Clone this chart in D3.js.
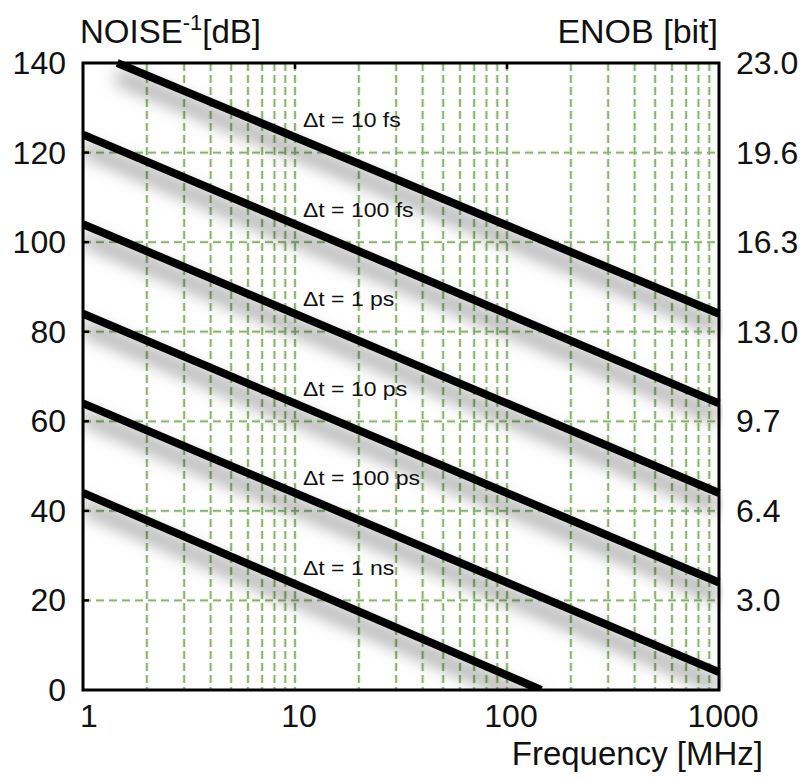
<!DOCTYPE html>
<html>
<head>
<meta charset="utf-8">
<script src="https://cdn.jsdelivr.net/npm/d3@7"></script>
<style>
  body { margin: 0; background: #fff; }
  text { font-family: "Liberation Sans", Arial, sans-serif; fill: #111; }
</style>
</head>
<body>
<svg id="chart" width="811" height="780"></svg>
<script>
// values
const jitterLabels = ["Δt = 10 fs", "Δt = 100 fs", "Δt = 1 ps", "Δt = 10 ps", "Δt = 100 ps", "Δt = 1 ns"];
// each line as [freq MHz, noise dB] endpoints
const lineStarts = [[1.45, 140], [1, 124], [1, 104], [1, 84], [1, 64], [1, 44]];
const lineEnds = [[1000, 84], [1000, 64], [1000, 44], [1000, 24], [1000, 4], [145, 0]];
const labelPos = [[10.9, 125.7], [10.9, 105.7], [10.9, 85.7], [10.9, 65.7], [10.9, 45.7], [10.9, 25.7]];
const yTicks = [0, 20, 40, 60, 80, 100, 120, 140];
const enobTicks = [140, 120, 100, 80, 60, 40, 20];
const enobLabels = ["23.0", "19.6", "16.3", "13.0", "9.7", "6.4", "3.0"];
const xTicks = [1, 10, 100, 1000];

const svg = d3.select("#chart");
const pLeft = 83, pRight = 719, pTop = 63, pBottom = 690;

const x = d3.scaleLog().domain([1, 1000]).range([pLeft, pRight]);
const y = d3.scaleLinear().domain([0, 140]).range([pBottom, pTop]);

const defs = svg.append("defs");
const f = defs.append("filter").attr("id", "shadow")
  .attr("x", "-20%").attr("y", "-50%").attr("width", "140%").attr("height", "200%");
f.append("feDropShadow")
  .attr("dx", 0).attr("dy", 13).attr("stdDeviation", 9)
  .attr("flood-color", "#000").attr("flood-opacity", 0.6);

defs.append("clipPath").attr("id", "plot")
  .append("rect").attr("x", pLeft).attr("y", pTop - 4)
  .attr("width", pRight - pLeft + 4).attr("height", pBottom - pTop + 4);

// grid
const minor = [];
[1, 10, 100].forEach(d => { for (let k = 2; k <= 10; k++) minor.push(d * k); });
const vGrid = minor.filter(v => v < 1000);
const hGrid = yTicks.slice(1, -1);

const grid = svg.append("g");
[["#f4f1c8", 4], ["#7fb48a", 1.8]].forEach(([col, w]) => {
  grid.append("g").selectAll("line").data(vGrid).enter().append("line")
    .attr("x1", d => x(d)).attr("x2", d => x(d))
    .attr("y1", pTop).attr("y2", pBottom)
    .attr("stroke", col).attr("stroke-width", w)
    .attr("stroke-dasharray", "8,4");
  grid.append("g").selectAll("line").data(hGrid).enter().append("line")
    .attr("x1", pLeft).attr("x2", pRight)
    .attr("y1", d => y(d)).attr("y2", d => y(d))
    .attr("stroke", col).attr("stroke-width", w)
    .attr("stroke-dasharray", "8,5");
});

// lines with drop shadow
const lineData = lineStarts.map((s, i) => [s, lineEnds[i]]);
const line = d3.line().x(d => x(d[0])).y(d => y(d[1]));
svg.append("g").attr("clip-path", "url(#plot)")
  .selectAll("path").data(lineData).enter().append("path")
  .attr("d", line)
  .attr("fill", "none").attr("stroke", "#000").attr("stroke-width", 8)
  .attr("filter", "url(#shadow)");

// frame
svg.append("rect").attr("x", pLeft).attr("y", pTop)
  .attr("width", pRight - pLeft).attr("height", pBottom - pTop)
  .attr("fill", "none").attr("stroke", "#000").attr("stroke-width", 3);

// small ticks
svg.append("g").selectAll("line").data(hGrid).enter().append("line")
  .attr("x1", pLeft).attr("x2", pLeft + 6)
  .attr("y1", d => y(d)).attr("y2", d => y(d))
  .attr("stroke", "#000").attr("stroke-width", 2.5);
svg.append("g").selectAll("line").data([10, 100]).enter().append("line")
  .attr("x1", d => x(d)).attr("x2", d => x(d))
  .attr("y1", pTop).attr("y2", pTop + 6)
  .attr("stroke", "#000").attr("stroke-width", 2.5);

// labels on lines
svg.append("g").selectAll("text").data(jitterLabels).enter().append("text")
  .attr("transform", (d, i) => `translate(${x(labelPos[i][0])},${y(labelPos[i][1])}) scale(1.15,1)`)
  .attr("font-size", 20)
  .text(d => d);

// left axis labels
svg.append("g").selectAll("text").data(yTicks).enter().append("text")
  .attr("x", 66).attr("y", d => y(d) + 11)
  .attr("text-anchor", "end").attr("font-size", 32)
  .text(d => d);

// right axis labels
svg.append("g").selectAll("text").data(enobTicks).enter().append("text")
  .attr("x", 736).attr("y", d => y(d) + 11)
  .attr("font-size", 32)
  .text((d, i) => enobLabels[i]);

// x labels
svg.append("g").selectAll("text").data(xTicks).enter().append("text")
  .attr("x", d => d === 1 ? x(d) + 6 : x(d) + 4).attr("y", 727)
  .attr("text-anchor", "middle").attr("font-size", 32)
  .text(d => d);

// titles
const t = svg.append("text").attr("x", 80).attr("y", 43).attr("font-size", 33);
t.append("tspan").text("NOISE");
t.append("tspan").attr("dy", -13).attr("font-size", 22).text("-1");
t.append("tspan").attr("dy", 13).text("[dB]");

svg.append("text").attr("x", 718).attr("y", 43).attr("text-anchor", "end")
  .attr("font-size", 34).text("ENOB [bit]");

svg.append("text").attr("x", 763).attr("y", 765).attr("text-anchor", "end")
  .attr("font-size", 33).text("Frequency [MHz]");
</script>
</body>
</html>
